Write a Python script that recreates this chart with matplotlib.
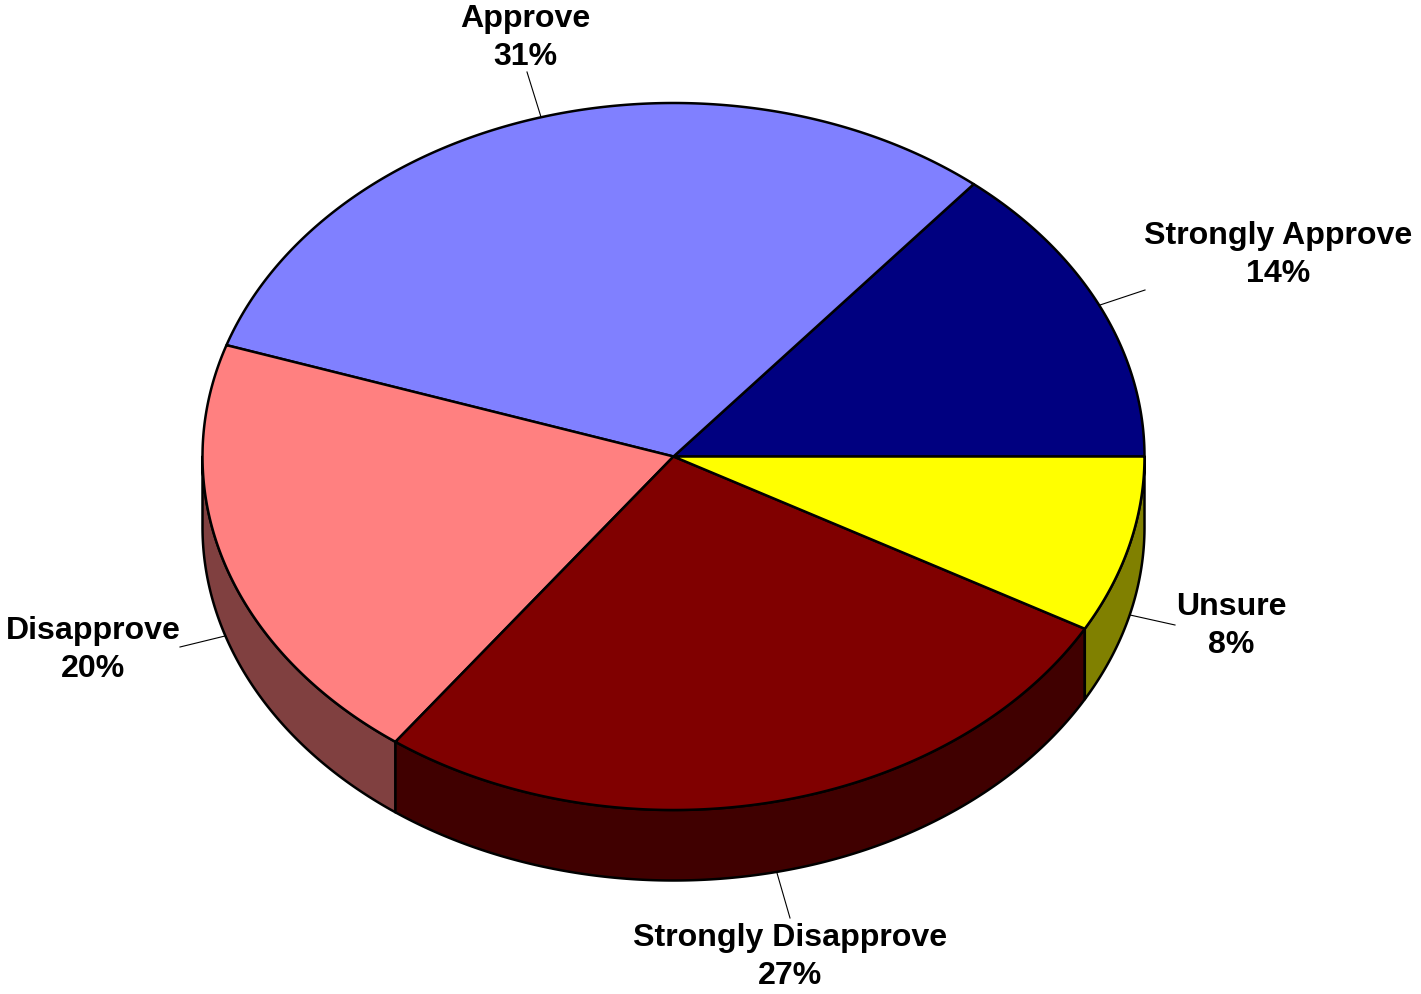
import numpy as np
from matplotlib import pyplot as plt
from matplotlib.patches import Polygon

W, H = 1421, 994
CX, CY, RX, RY, DEPTH = 673.5, 456.5, 471, 353.5, 70.5  # ellipse of the pie top, in pixels

labels = ['Strongly Approve', 'Approve', 'Disapprove', 'Strongly Disapprove', 'Unsure']
values = [14.0, 30.9, 20.05, 26.95, 8.1]  # slice angles, labels show them rounded
colors = ['#000080', '#8080ff', '#ff8080', '#800000', '#ffff00']
side_colors = ['#000040', '#404080', '#804040', '#400000', '#808000']

# label centre and leader line end points, in pixels
label_pos = [(1278, 255), (525, 38), (93, 650), (790, 957), (1231, 626)]
leader_from = [(1145, 290), (527, 72), (180, 647), (790, 918), (1175, 625)]
leader_to = [(1100, 305), (541, 117), (225, 636), (777, 873), (1130, 615)]


def arc(a0, a1, dy=0):
    t = np.radians(np.linspace(a0, a1, max(int(abs(a1 - a0) * 4), 2)))
    return np.column_stack([CX + RX * np.cos(t), CY + dy - RY * np.sin(t)])


fig = plt.figure(figsize=(W / 100, H / 100), dpi=100)
ax = fig.add_axes([0, 0, 1, 1])
ax.set_xlim(0, W)
ax.set_ylim(H, 0)
ax.axis('off')

edges = np.cumsum([0] + values) / sum(values) * 360

# side wall, only the front half of the pie shows it
for i in range(len(values)):
    a0, a1 = max(edges[i], 180), edges[i + 1]
    if a1 <= a0:
        continue
    wall = np.vstack([arc(a0, a1), arc(a0, a1, DEPTH)[::-1]])
    ax.add_patch(Polygon(wall, closed=True, fc=side_colors[i], ec='black', lw=1.8, joinstyle='round'))

# top slices
for i in range(len(values)):
    top = np.vstack([[(CX, CY)], arc(edges[i], edges[i + 1])])
    ax.add_patch(Polygon(top, closed=True, fc=colors[i], ec='black', lw=1.8, joinstyle='round'))

for i, name in enumerate(labels):
    ax.plot(*zip(leader_from[i], leader_to[i]), color='black', lw=0.8)
    ax.text(*label_pos[i], f'{name}\n{values[i]:.0f}%', ha='center', va='center', family='Liberation Sans',
            fontweight='bold', fontsize=23.1, linespacing=1.31, color='black')

plt.savefig('out.png', dpi=100)
plt.close()
